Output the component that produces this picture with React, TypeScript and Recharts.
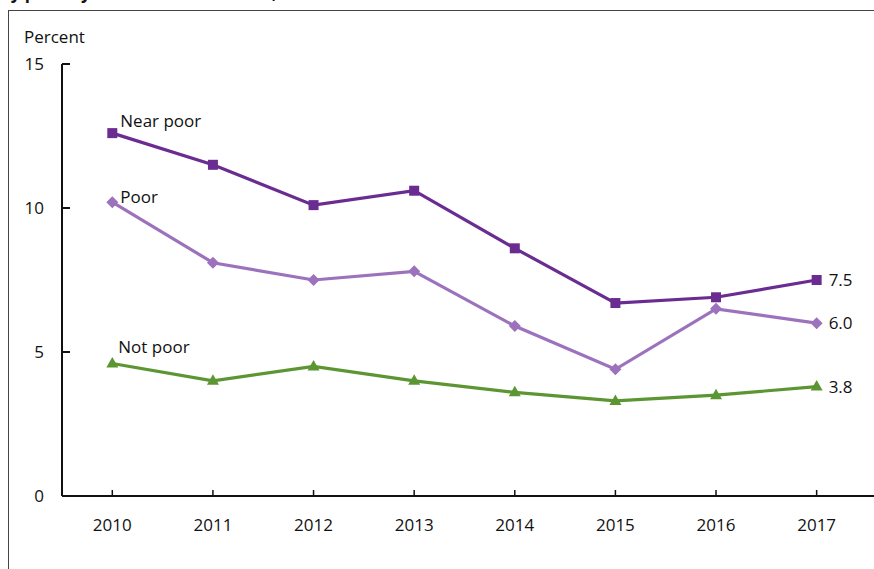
import { LineChart, Line, XAxis, YAxis, LabelList } from "recharts";

const years = [2010, 2011, 2012, 2013, 2014, 2015, 2016, 2017];
const nearPoor = [12.6, 11.5, 10.1, 10.6, 8.6, 6.7, 6.9, 7.5];
const poor = [10.2, 8.1, 7.5, 7.8, 5.9, 4.4, 6.5, 6.0];
const notPoor = [4.6, 4.0, 4.5, 4.0, 3.6, 3.3, 3.5, 3.8];
const yTicks = [0, 5, 10, 15];
const seriesNames = ["Near poor", "Poor", "Not poor"];

const data = years.map((year, i) => ({
  year,
  nearPoor: nearPoor[i],
  poor: poor[i],
  notPoor: notPoor[i],
}));

const FONT = '"Open Sans", sans-serif';
const INK = "#111";

const series = [
  { key: "nearPoor", name: seriesNames[0], color: "#6B2C91", shape: "square", dx: 8, dy: -6 },
  { key: "poor", name: seriesNames[1], color: "#9D72BD", shape: "diamond", dx: 8, dy: 1 },
  { key: "notPoor", name: seriesNames[2], color: "#5C9632", shape: "triangle", dx: 6, dy: -11 },
];

function makeDot(shape: string, color: string) {
  return (p: any) => {
    const { cx, cy, index } = p;
    if (cx == null || cy == null) return <g key={index} />;
    if (shape === "square") {
      return <rect key={index} x={cx - 5} y={cy - 5} width={10} height={10} fill={color} />;
    }
    if (shape === "diamond") {
      const r = 6;
      return (
        <polygon
          key={index}
          points={`${cx},${cy - r} ${cx + r},${cy} ${cx},${cy + r} ${cx - r},${cy}`}
          fill={color}
        />
      );
    }
    return (
      <polygon
        key={index}
        points={`${cx},${cy - 6.5} ${cx + 6},${cy + 4} ${cx - 6},${cy + 4}`}
        fill={color}
      />
    );
  };
}

function makeLabel(name: string, dx: number, dy: number) {
  return (p: any) => {
    const { x, y, index, value } = p;
    if (index === 0) {
      return (
        <text key="name" x={x + dx} y={y + dy} fontSize={17} fontFamily={FONT} fill={INK}>
          {name}
        </text>
      );
    }
    if (index === years.length - 1) {
      return (
        <text key="end" x={x + 12} y={y + 6} fontSize={17} fontFamily={FONT} fill={INK}>
          {Number(value).toFixed(1)}
        </text>
      );
    }
    return null;
  };
}

const XTick = (p: any) => {
  const { x, y, payload } = p;
  return (
    <g>
      <line x1={x} x2={x} y1={y - 6} y2={y} stroke={INK} strokeWidth={1.5} />
      <text x={x} y={y + 34.5} textAnchor="middle" fontSize={17} fontFamily={FONT} fill={INK}>
        {payload.value}
      </text>
    </g>
  );
};

const YTick = (p: any) => {
  const { x, y, payload } = p;
  return (
    <g>
      <line x1={x} x2={x + 8} y1={y} y2={y} stroke={INK} strokeWidth={2} />
      <text x={x - 18} y={y + 6} textAnchor="end" fontSize={17} fontFamily={FONT} fill={INK}>
        {payload.value}
      </text>
    </g>
  );
};

export default function App() {
  return (
    <div
      style={{
        position: "fixed",
        left: 0,
        top: 0,
        width: 874,
        height: 569,
        overflow: "hidden",
        background: "#fff",
        fontFamily: FONT,
        color: INK,
      }}
    >
      <div
        style={{
          position: "absolute",
          left: 0,
          top: -18,
          fontSize: 17,
          fontWeight: "bold",
          whiteSpace: "nowrap",
          lineHeight: "22px",
        }}
      >
        by poverty status: United States, 2010–2017
      </div>
      <div
        style={{
          position: "absolute",
          left: 8,
          top: 10,
          right: -10,
          bottom: -10,
          borderLeft: "1.5px solid #444",
          borderTop: "1.5px solid #444",
        }}
      />
      <div style={{ position: "absolute", left: 24, top: 26, fontSize: 17, lineHeight: "22px" }}>Percent</div>
      <div style={{ position: "absolute", left: 0, top: 0 }}>
        <LineChart width={874} height={569} data={data} margin={{ top: 64, right: 0, bottom: 33, left: 12 }}>
          <XAxis
            type="number"
            dataKey="year"
            domain={[2009.5, 2017.57]}
            ticks={years}
            interval={0}
            allowDataOverflow
            height={40}
            tickSize={0}
            tickMargin={0}
            tickLine={false}
            axisLine={{ stroke: INK, strokeWidth: 2 }}
            tick={<XTick />}
          />
          <YAxis
            type="number"
            domain={[0, 15]}
            ticks={yTicks}
            interval={0}
            width={50}
            tickSize={0}
            tickMargin={0}
            tickLine={false}
            axisLine={{ stroke: INK, strokeWidth: 2 }}
            tick={<YTick />}
          />
          {series.map((s) => (
            <Line
              key={s.key}
              type="linear"
              dataKey={s.key}
              name={s.name}
              stroke={s.color}
              strokeWidth={3.2}
              dot={makeDot(s.shape, s.color)}
              activeDot={false}
              isAnimationActive={false}
            >
              <LabelList dataKey={s.key} content={makeLabel(s.name, s.dx, s.dy)} />
            </Line>
          ))}
        </LineChart>
      </div>
    </div>
  );
}
